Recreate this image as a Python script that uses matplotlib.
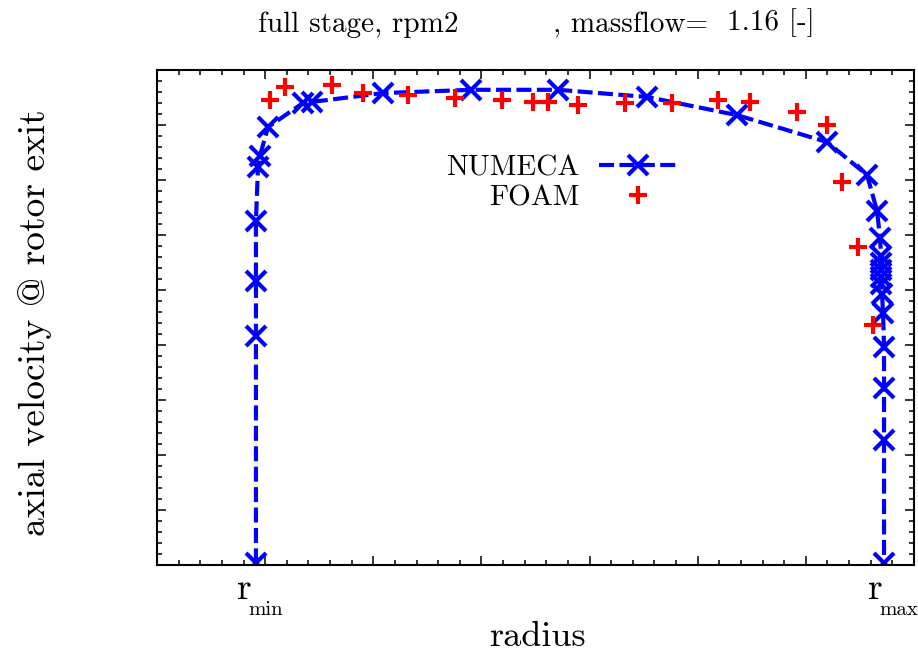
import matplotlib
matplotlib.use("Agg")
import matplotlib.pyplot as plt
from matplotlib.ticker import MultipleLocator

# radius (normalised, r_min ~0.92 .. r_max ~6.72) and axial velocity (arbitrary units)
numeca_r = [0.915, 0.915, 0.915, 0.915, 0.934, 0.952, 1.026, 1.350, 1.433, 2.090,
            2.904, 3.708, 4.531, 5.363, 6.196, 6.566, 6.658, 6.686, 6.695, 6.695,
            6.695, 6.695, 6.695, 6.704, 6.714, 6.723, 6.723, 6.723, 6.723]
numeca_u = [0.03, 4.16, 5.16, 6.25, 7.24, 7.44, 7.96, 8.40, 8.42, 8.58,
            8.64, 8.64, 8.51, 8.18, 7.69, 7.09, 6.44, 5.95, 5.62, 5.49,
            5.36, 5.24, 5.11, 4.93, 4.58, 3.96, 3.22, 2.27, 0.03]

foam_r = [1.045, 1.184, 1.618, 1.905, 2.321, 2.756, 3.190, 3.477, 3.616, 3.893,
          4.328, 4.762, 5.188, 5.484, 5.918, 6.196, 6.334, 6.482, 6.621]
foam_u = [8.45, 8.69, 8.73, 8.58, 8.55, 8.49, 8.45, 8.42, 8.42, 8.36,
          8.40, 8.40, 8.45, 8.42, 8.24, 8.00, 6.96, 5.78, 4.36]

r_min = 0.915
r_max = 6.723
massflow = 1.16

plt.rcParams['font.family'] = ['cmr10', 'DejaVu Serif']
plt.rcParams['axes.unicode_minus'] = False

W, H = 918, 653
PT = 72.0 / 100  # pixels -> points
fig = plt.figure(figsize=(W / 100, H / 100), dpi=100)
ax = fig.add_axes([157 / W, 88 / H, 757 / W, 495 / H])

# NUMECA: blue dashed line with crosses, FOAM: red plus markers
ax.plot(numeca_r, numeca_u, color='blue', ls='--', lw=3, dashes=(3.6, 1.3),
        marker='x', ms=14, mew=3, label='NUMECA')
ax.plot(foam_r, foam_u, color='red', ls='none', marker='+', ms=13, mew=3,
        label='FOAM')

ax.set_xlim(0, 7)
ax.set_ylim(0, 9)
ax.xaxis.set_major_locator(MultipleLocator(1))
ax.xaxis.set_minor_locator(MultipleLocator(0.2))
ax.yaxis.set_major_locator(MultipleLocator(1))
ax.yaxis.set_minor_locator(MultipleLocator(0.2))
ax.tick_params(which='both', direction='in', top=True, right=True,
               labelbottom=False, labelleft=False, width=1.1)
ax.tick_params(which='major', length=6.5)
ax.tick_params(which='minor', length=3.6)
for s in ax.spines.values():
    s.set_linewidth(1.5)

# r_min / r_max labels under the axis: big "r" with the index set below
xt = ax.get_xaxis_transform()
for pos, sub, dx_r, dx_s in [(r_min, 'min', -19, -8), (r_max, 'max', -16, -5)]:
    ax.annotate('r', xy=(pos, 0), xycoords=xt, xytext=(dx_r * PT, -34 * PT),
                textcoords='offset points', ha='left', va='baseline', fontsize=27)
    ax.annotate(sub, xy=(pos, 0), xycoords=xt, xytext=(dx_s * PT, -50 * PT),
                textcoords='offset points', ha='left', va='baseline', fontsize=15)

# axis titles
fig.text(537 / W, 7 / H, 'radius', ha='center', va='baseline', fontsize=26)
ax.set_ylabel('axial velocity @ rotor exit', fontsize=27)
ax.yaxis.set_label_coords((52 - 157) / 757, 0.49)

ax.legend(loc='center', bbox_to_anchor=(0.534, 0.772), frameon=False,
          markerfirst=False, handlelength=2.65, handletextpad=0.7,
          labelspacing=0.12, numpoints=1, fontsize=21)

# title in three pieces as in the original
ty = 1 - 32 / H
fig.text(258 / W, ty, 'full stage, rpm2', ha='left', va='baseline', fontsize=21)
fig.text(553 / W, ty, ', massflow=', ha='left', va='baseline', fontsize=21)
fig.text(815 / W, ty + 2 / H, '%.2f [-]' % massflow, ha='right', va='baseline', fontsize=21)

fig.savefig('out.png', dpi=100)
